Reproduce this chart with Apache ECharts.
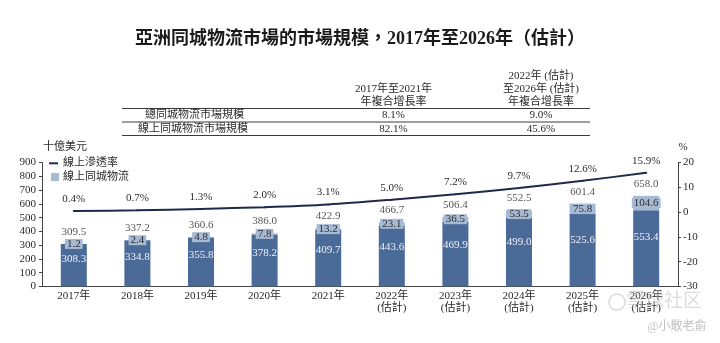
<!DOCTYPE html>
<html>
<head>
<meta charset="utf-8">
<script src="https://cdn.jsdelivr.net/npm/echarts@6/dist/echarts.min.js"></script>
<style>
  html, body { margin: 0; padding: 0; background: #fff; }
  #chart { width: 720px; height: 343px; }
</style>
</head>
<body>
<div id="chart"></div>
<script>
// Years on the category axis (forecast years carry a second line)
const categories = ['2017年', '2018年', '2019年', '2020年', '2021年',
  '2022年\n(估計)', '2023年\n(估計)', '2024年\n(估計)', '2025年\n(估計)', '2026年\n(估計)'];

// Market size, billion USD
const offlineMarket = [308.3, 334.8, 355.8, 378.2, 409.7, 443.6, 469.9, 499.0, 525.6, 553.4];
const onlineMarket = [1.2, 2.4, 4.8, 7.8, 13.2, 23.1, 36.5, 53.5, 75.8, 104.6];
const totalMarket = [309.5, 337.2, 360.6, 386.0, 422.9, 466.7, 506.4, 552.5, 601.4, 658.0];

// Online penetration rate, %
const onlinePenetration = [0.4, 0.7, 1.3, 2.0, 3.1, 5.0, 7.2, 9.7, 12.6, 15.9];

// CAGR table
const tableRows = ['總同城物流市場規模', '線上同城物流市場規模'];
const cagr2017to2021 = ['8.1%', '82.1%'];
const cagr2022to2026 = ['9.0%', '45.6%'];

const FONT = "'Liberation Serif', 'Noto Sans CJK TC', serif";
const TEXT = '#2a2a2a';
const DARK = '#4a6a97';
const LIGHT = '#a7bad4';
const LINE = '#1d2a49';

const chart = echarts.init(document.getElementById('chart'), null, { renderer: 'canvas' });

function txt(text, x, y, size, opts) {
  return Object.assign({
    type: 'text', x: x, y: y, silent: true,
    style: Object.assign({
      text: text, fill: TEXT, align: 'center', verticalAlign: 'middle',
      font: size + 'px ' + FONT
    }, (opts && opts.style) || {})
  }, (opts && opts.el) || {});
}
function hline(x1, x2, y, w) {
  return { type: 'line', silent: true, shape: { x1: x1, y1: y, x2: x2, y2: y },
    style: { stroke: '#3a3a3a', lineWidth: w || 1 } };
}

const colA = 393.5, colB = 541;
const graphics = [
  // CAGR table headers
  txt('2017年至2021年', colA, 89.5, 11),
  txt('年複合增長率', colA, 102.5, 11),
  txt('2022年 (估計)', colB, 76, 11),
  txt('至2026年 (估計)', colB, 89.5, 11),
  txt('年複合增長率', colB, 102.5, 11),
  hline(122, 590, 108.5, 1.2),
  hline(122, 590, 122, 1),
  hline(122, 590, 135.5, 1.2),
  // axis units
  txt('十億美元', 43, 147.5, 11, { style: { align: 'left' } }),
  txt('%', 683, 147.5, 11),
  // legend
  { type: 'rect', silent: true, shape: { x: 49, y: 162.3, width: 9, height: 2 }, style: { fill: LINE } },
  txt('線上滲透率', 63, 163.5, 11, { style: { align: 'left' } }),
  { type: 'rect', silent: true, shape: { x: 51, y: 173, width: 8, height: 8 }, style: { fill: LIGHT } },
  txt('線上同城物流', 63, 177, 11, { style: { align: 'left' } }),
  // watermark
  { type: 'circle', silent: true, z: 100, shape: { cx: 617, cy: 302, r: 8 }, style: { fill: 'none', stroke: 'rgba(190,190,190,0.55)', lineWidth: 1.5 } },
  txt('雪球社区', 664, 302, 19, { style: { fill: 'rgba(185,185,185,0.5)' }, el: { z: 100 } }),
  txt('@小散老俞', 677, 326.5, 12, { style: { fill: 'rgba(170,170,170,0.75)' }, el: { z: 100 } })
];
tableRows.forEach(function (name, i) {
  const y = i === 0 ? 115 : 129.5;
  graphics.push(txt(name, i === 0 ? 145 : 138, y, 11, { style: { align: 'left' } }));
  graphics.push(txt(cagr2017to2021[i], colA, y, 11));
  graphics.push(txt(cagr2022to2026[i], colB, y, 11));
});

const axisText = { color: TEXT, fontFamily: FONT, fontSize: 11 };

chart.setOption({
  animation: false,
  backgroundColor: '#fff',
  title: {
    text: '亞洲同城物流市場的市場規模，2017年至2026年（估計）',
    left: 'center', top: 25,
    textStyle: { fontFamily: FONT, fontSize: 18, fontWeight: 'bold', color: '#1a1a1a' }
  },
  grid: { left: 42, right: 42, top: 162.5, bottom: 56.5 },
  xAxis: {
    type: 'category', data: categories,
    axisLine: { lineStyle: { color: '#444', width: 1 } },
    axisTick: { show: false },
    axisLabel: Object.assign({ margin: 4, lineHeight: 12, interval: 0 }, axisText)
  },
  yAxis: [
    {
      type: 'value', min: 0, max: 900, interval: 100,
      axisLine: { show: true, lineStyle: { color: '#444' } },
      axisTick: { show: true, length: 3, lineStyle: { color: '#444' } },
      splitLine: { show: false },
      axisLabel: Object.assign({ margin: 6 }, axisText)
    },
    {
      type: 'value', min: -30, max: 20, interval: 10, position: 'right',
      axisLine: { show: true, lineStyle: { color: '#444' } },
      axisTick: { show: true, length: 3, lineStyle: { color: '#444' } },
      splitLine: { show: false },
      axisLabel: Object.assign({ margin: 5 }, axisText)
    }
  ],
  series: [
    {
      name: '線下同城物流', type: 'bar', stack: 'market', barWidth: 26,
      data: offlineMarket,
      itemStyle: { color: DARK },
      label: {
        show: true, position: ['50%', '35.5%'], align: 'center', verticalAlign: 'middle',
        color: '#eef2f8', fontFamily: FONT, fontSize: 11,
        formatter: function (p) { return p.value.toFixed(1); }
      }
    },
    {
      name: '線上同城物流', type: 'bar', stack: 'market', barWidth: 26,
      data: onlineMarket,
      itemStyle: { color: LIGHT },
      label: {
        show: true, position: 'inside', color: TEXT, fontFamily: FONT, fontSize: 11,
        backgroundColor: LIGHT, padding: [0, 2], lineHeight: 10,
        formatter: function (p) { return p.value.toFixed(1); }
      }
    },
    {
      name: '總同城物流', type: 'scatter', data: totalMarket, symbolSize: 0,
      silent: true, z: 5,
      label: {
        show: true, position: 'top', distance: 6, color: TEXT, fontFamily: FONT,
        fontSize: 11, lineHeight: 12,
        formatter: function (p) { return p.value.toFixed(1); }
      }
    },
    {
      name: '線上滲透率', type: 'line', yAxisIndex: 1, data: onlinePenetration,
      smooth: 0.3, symbol: 'circle', symbolSize: 2,
      itemStyle: { color: LINE }, lineStyle: { color: LINE, width: 2 },
      label: {
        show: true, position: 'top', distance: 5, color: TEXT, fontFamily: FONT,
        fontSize: 11, lineHeight: 12,
        formatter: function (p) { return p.value.toFixed(1) + '%'; }
      }
    }
  ],
  graphic: graphics
});
</script>
</body>
</html>
